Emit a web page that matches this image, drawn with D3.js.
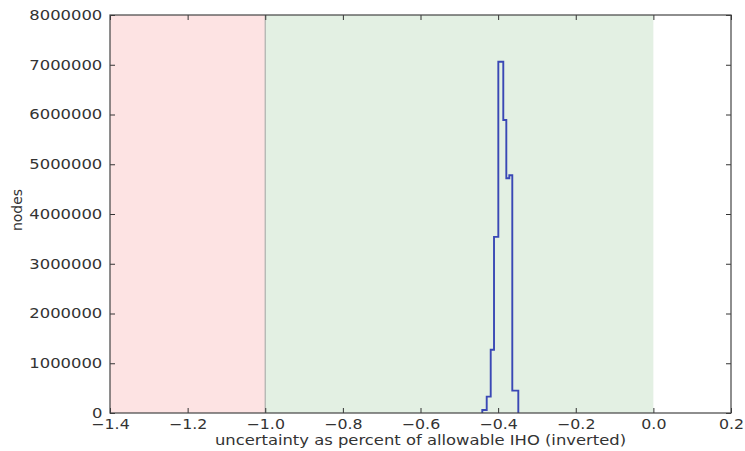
<!DOCTYPE html>
<html>
<head>
<meta charset="utf-8">
<script src="https://cdn.jsdelivr.net/npm/d3@7"></script>
<style>
  html, body { margin: 0; padding: 0; background: #fff; }
  svg { display: block; }
  text { font-family: "DejaVu Sans", sans-serif; fill: #333; }
</style>
</head>
<body>
<svg id="chart" width="745" height="451"></svg>
<script>
// Histogram bin edges (uncertainty as fraction of allowable IHO, inverted)
const binEdges = [-0.4408, -0.4294, -0.4191, -0.4106, -0.3995, -0.3867, -0.3789, -0.3712, -0.3635, -0.3480];
// Node counts per bin
const binCounts = [60000, 330000, 1270000, 3540000, 7060000, 5890000, 4720000, 4780000, 450000];

// Shaded zones
const failZone = [-1.4, -1.0];
const passZone = [-1.0, 0.0];

const xTicks = [-1.4, -1.2, -1.0, -0.8, -0.6, -0.4, -0.2, 0.0, 0.2];
const yTicks = [0, 1000000, 2000000, 3000000, 4000000, 5000000, 6000000, 7000000, 8000000];

const margin = { left: 110, top: 15, right: 745 - 731, bottom: 451 - 413 };
const W = 745, H = 451;
const widen = 1.17; // horizontal glyph stretch applied to all labels

const svg = d3.select("#chart");
const x = d3.scaleLinear().domain([-1.4, 0.2]).range([margin.left, W - margin.right]);
const y = d3.scaleLinear().domain([0, 8000000]).range([H - margin.bottom, margin.top]);

// shaded bands
svg.append("rect")
  .attr("x", x(failZone[0])).attr("y", y(8000000))
  .attr("width", x(failZone[1]) - x(failZone[0]))
  .attr("height", y(0) - y(8000000))
  .attr("fill", "#fde3e3");
svg.append("rect")
  .attr("x", x(passZone[0])).attr("y", y(8000000))
  .attr("width", x(passZone[1]) - x(passZone[0]))
  .attr("height", y(0) - y(8000000))
  .attr("fill", "#e3f0e3");
svg.append("line")
  .attr("x1", x(-1.0)).attr("x2", x(-1.0))
  .attr("y1", y(8000000)).attr("y2", y(0))
  .attr("stroke", "#b0b4b0").attr("stroke-width", 1.3);

// step outline of the histogram
const pts = [[binEdges[0], 0]];
binCounts.forEach((c, i) => {
  pts.push([binEdges[i], c]);
  pts.push([binEdges[i + 1], c]);
});
pts.push([binEdges[binEdges.length - 1], 0]);
svg.append("path")
  .attr("d", d3.line().x(d => x(d[0])).y(d => y(d[1]))(pts))
  .attr("fill", "none")
  .attr("stroke", "#3a48b5")
  .attr("stroke-width", 1.9);

// axes with inward ticks
const fmtX = d => d3.format(".1f")(d).replace("-", "\u2212");
const gx = svg.append("g").attr("transform", `translate(0,${y(0)})`)
  .call(d3.axisBottom(x).tickValues(xTicks).tickFormat(fmtX).tickSizeInner(-5).tickSizeOuter(0).tickPadding(6.5));
const gy = svg.append("g").attr("transform", `translate(${x(-1.4)},0)`)
  .call(d3.axisLeft(y).tickValues(yTicks).tickFormat(d3.format("d")).tickSizeInner(-5).tickSizeOuter(0).tickPadding(7.7));
const gt = svg.append("g").attr("transform", `translate(0,${y(8000000)})`)
  .call(d3.axisTop(x).tickValues(xTicks).tickFormat("").tickSizeInner(-5).tickSizeOuter(0));
const gr = svg.append("g").attr("transform", `translate(${x(0.2)},0)`)
  .call(d3.axisRight(y).tickValues(yTicks).tickFormat("").tickSizeInner(-5).tickSizeOuter(0));

[gx, gy, gt, gr].forEach(g => {
  g.select(".domain").remove();
  g.selectAll(".tick line").attr("stroke", "#333").attr("stroke-width", 1);
});
gx.selectAll("text").attr("font-size", 13.5).attr("fill", "#333").attr("font-family", "DejaVu Sans");
gy.selectAll("text").attr("font-size", 14).attr("fill", "#333").attr("font-family", "DejaVu Sans");

// frame
svg.append("rect")
  .attr("x", x(-1.4)).attr("y", y(8000000))
  .attr("width", x(0.2) - x(-1.4)).attr("height", y(0) - y(8000000))
  .attr("fill", "none").attr("stroke", "#444").attr("stroke-width", 1.2);

// axis titles
svg.append("text")
  .attr("x", (x(-1.4) + x(0.2)) / 2).attr("y", 445)
  .attr("text-anchor", "middle").attr("font-size", 14)
  .text("uncertainty as percent of allowable IHO (inverted)");
svg.append("text")
  .attr("transform", `translate(22,210) rotate(-90)`)
  .attr("text-anchor", "middle").attr("font-size", 14)
  .text("nodes");

// widen the glyphs of horizontal labels
svg.selectAll("text").each(function () {
  if (this.textContent === "nodes" || !this.textContent) return;
  const w = this.getComputedTextLength();
  d3.select(this).attr("textLength", w * widen).attr("lengthAdjust", "spacingAndGlyphs");
});
</script>
</body>
</html>
